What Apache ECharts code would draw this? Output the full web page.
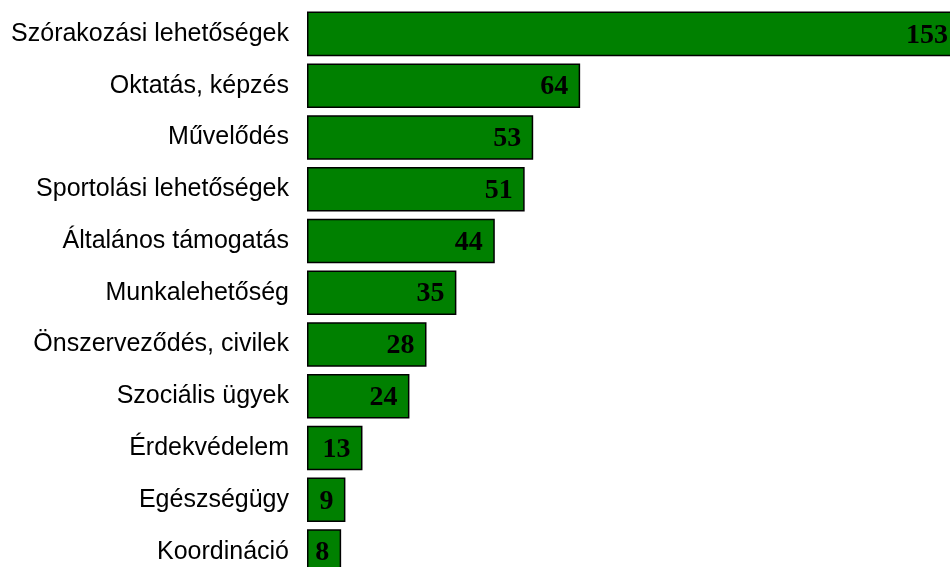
<!DOCTYPE html>
<html><head><meta charset="utf-8">
<script src="https://cdn.jsdelivr.net/npm/echarts@6/dist/echarts.min.js"></script>
<style>html,body{margin:0;padding:0;background:#fff}#c{width:950px;height:567px}</style>
</head><body><div id="c"></div>
<script>
const categories = ["Szórakozási lehetőségek","Oktatás, képzés","Művelődés","Sportolási lehetőségek","Általános támogatás","Munkalehetőség","Önszerveződés, civilek","Szociális ügyek","Érdekvédelem","Egészségügy","Koordináció"];
const values = [153,64,53,51,44,35,28,24,13,9,8];

const chart = echarts.init(document.getElementById('c'), null, {renderer:'canvas'});
chart.setOption({
  animation:false,
  backgroundColor:'#fff',
  grid:{left:307, top:8, width:653, height:569.5, containLabel:false, outerBoundsMode:'none'},
  xAxis:{type:'value', min:0, max:153, show:false},
  yAxis:{type:'category', data:categories, inverse:true,
    axisLine:{show:false}, axisTick:{show:false},
    axisLabel:{color:'#000', fontFamily:'Liberation Sans, Arial, sans-serif', fontSize:25, margin:18}},
  series:[{type:'bar', data:values, barCategoryGap:'14%',
    itemStyle:{color:'#008000', borderColor:'#000', borderWidth:1.5},
    label:{show:true, position:'insideRight', distance:12, offset:[0,1.5], color:'#000',
      fontFamily:'Liberation Serif, Times New Roman, serif', fontWeight:'bold', fontSize:28}}]
});
</script></body></html>
